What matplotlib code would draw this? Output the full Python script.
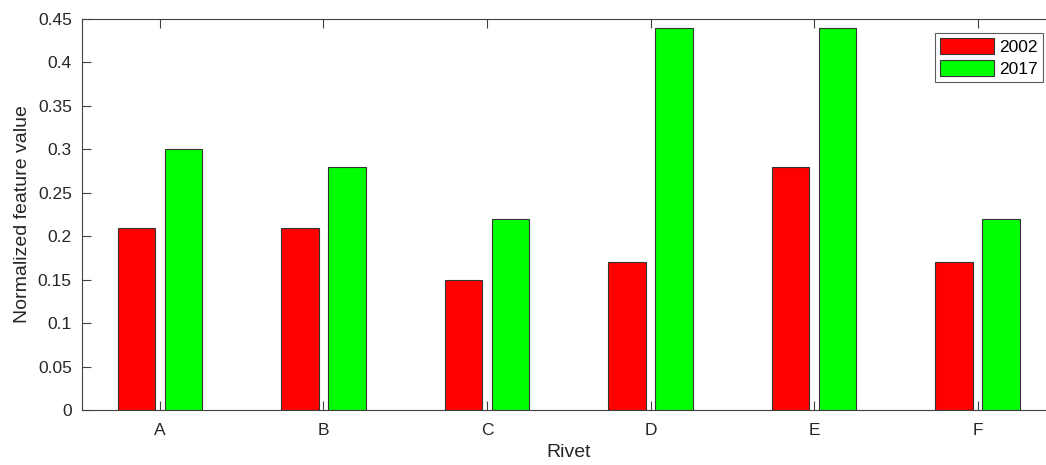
import matplotlib
matplotlib.use("Agg")
import matplotlib.pyplot as plt
import numpy as np

plt.rcParams['font.family'] = ['Liberation Sans', 'DejaVu Sans']

categories = ['A', 'B', 'C', 'D', 'E', 'F']
series_names = ['2002', '2017']
values_2002 = [0.21, 0.21, 0.15, 0.17, 0.28, 0.17]
values_2017 = [0.30, 0.28, 0.22, 0.44, 0.44, 0.22]
yticks = [0, 0.05, 0.1, 0.15, 0.2, 0.25, 0.3, 0.35, 0.4, 0.45]
ytick_labels = ['0', '0.05', '0.1', '0.15', '0.2', '0.25', '0.3', '0.35', '0.4', '0.45']

W, H = 1046, 465
fig = plt.figure(figsize=(W / 100, H / 100), dpi=100)
left, right, top, bottom = 81.5, 1056, 19, 410
ax = fig.add_axes([left / W, 1 - bottom / H, (right - left) / W, (bottom - top) / H])

x = np.arange(1, len(categories) + 1)
bw = 0.23
off = 0.143
ax.bar(x - off, values_2002, bw, color='#ff0000', edgecolor='#333333', linewidth=0.8, label=series_names[0])
ax.bar(x + off, values_2017, bw, color='#00ff00', edgecolor='#333333', linewidth=0.8, label=series_names[1])

ax.set_xlim(0.52, 6.48)
ax.set_ylim(0, 0.45)
ax.set_xticks(x)
ax.set_xticklabels(categories)
ax.set_yticks(yticks)
ax.set_yticklabels(ytick_labels)

col = '#262626'
for s in ax.spines.values():
    s.set_color('#404040')
    s.set_linewidth(0.8)
ax.tick_params(direction='in', length=6.5, width=0.8, color='#404040', labelcolor=col,
               labelsize=12.5, top=True, right=True)
ax.tick_params(axis='x', pad=9)
ax.tick_params(axis='y', pad=7)

ax.set_xlabel('Rivet', fontsize=14, color=col, labelpad=5)
ax.set_ylabel('Normalized feature value', fontsize=14, color=col, labelpad=5)

leg = ax.legend(loc='upper right', bbox_to_anchor=((1043 - left) / (right - left), (bottom - 33) / (bottom - top)),
                fontsize=12.5, frameon=True, fancybox=False, handlelength=3.1, handleheight=1.0,
                handletextpad=0.3, borderpad=0.3, labelspacing=0.3, borderaxespad=0)
leg.get_frame().set_edgecolor('#333333')
leg.get_frame().set_linewidth(0.8)

fig.savefig('out.png', dpi=100)
